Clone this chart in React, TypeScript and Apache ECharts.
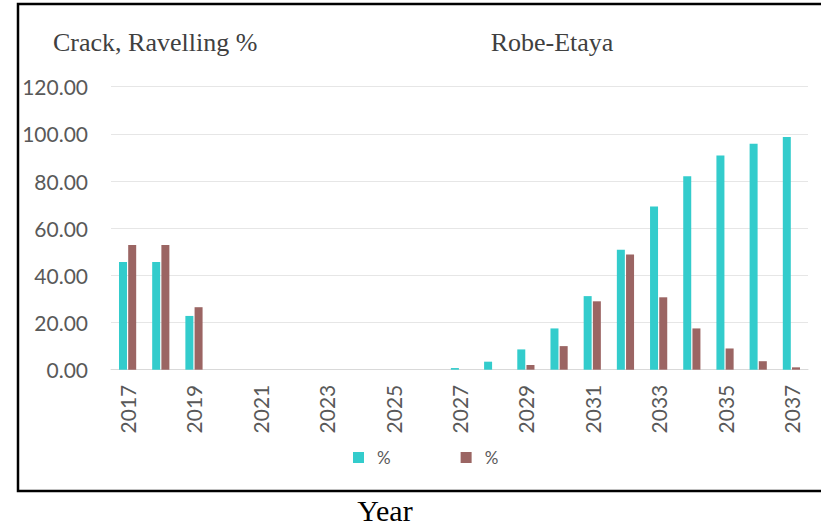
import React, { useEffect, useRef } from "react";
import * as echarts from "echarts";

// Survey years along the horizontal axis
const years: string[] = [
  "2017", "2018", "2019", "2020", "2021", "2022", "2023", "2024", "2025", "2026",
  "2027", "2028", "2029", "2030", "2031", "2032", "2033", "2034", "2035", "2036", "2037",
];

// Crack share (%) per year
const crackPct: number[] = [
  45.7, 45.7, 22.8, 0, 0, 0, 0, 0, 0, 0,
  0.7, 3.4, 8.6, 17.5, 31.2, 50.9, 69.2, 82.0, 90.8, 95.8, 98.7,
];

// Ravelling share (%) per year
const ravellingPct: number[] = [
  52.9, 52.9, 26.5, 0, 0, 0, 0, 0, 0, 0,
  0, 0, 2.0, 10.0, 29.0, 48.8, 30.7, 17.5, 9.0, 3.6, 1.0,
];

const yTicks: number[] = [0, 20, 40, 60, 80, 100, 120];

const chartTitle = "Robe-Etaya";
const yTitle = "Crack, Ravelling %";
const xTitle = "Year";

const CYAN = "#33CCCC";
const BROWN = "#9B6563";
const LABEL = "#595959";
const SANS = "Lato, 'Open Sans', sans-serif";
const SERIF = "'Liberation Serif', 'DejaVu Serif', serif";

export default function App() {
  const ref = useRef<HTMLDivElement | null>(null);

  useEffect(() => {
    if (!ref.current) return;
    const chart = echarts.init(ref.current, undefined, { renderer: "svg" });

    chart.setOption({
      animation: false,
      backgroundColor: "#ffffff",
      grid: { left: 111, right: 13, top: 86.7, bottom: 159.3 },
      legend: {
        left: 353,
        top: 449,
        padding: 0,
        icon: "rect",
        itemWidth: 11,
        itemHeight: 11,
        itemGap: 70,
        formatter: () => "%",
        textStyle: {
          fontFamily: SANS,
          fontSize: 17,
          color: LABEL,
          lineHeight: 17,
          padding: [0, 0, 0, 8],
        },
        selectedMode: false,
        data: ["Crack", "Ravelling"],
      },
      xAxis: {
        type: "category",
        data: years,
        axisTick: { show: false },
        axisLine: { lineStyle: { color: "#d9d9d9", width: 1 } },
        axisLabel: {
          interval: 1,
          rotate: 90,
          margin: 15,
          fontFamily: SANS,
          fontSize: 21,
          color: LABEL,
        },
      },
      yAxis: {
        type: "value",
        min: yTicks[0],
        max: yTicks[yTicks.length - 1],
        interval: yTicks[1] - yTicks[0],
        axisLine: { show: false },
        axisTick: { show: false },
        splitLine: { lineStyle: { color: "#e6e6e6", width: 1 } },
        axisLabel: {
          margin: 23,
          fontFamily: SANS,
          fontSize: 21,
          color: LABEL,
          formatter: (v: number) => v.toFixed(2),
        },
      },
      series: [
        {
          name: "Crack",
          type: "bar",
          data: crackPct,
          barWidth: 8,
          barGap: "15%",
          itemStyle: { color: CYAN },
        },
        {
          name: "Ravelling",
          type: "bar",
          data: ravellingPct,
          barWidth: 8,
          itemStyle: { color: BROWN },
        },
      ],
      graphic: [
        {
          type: "rect",
          shape: { x: 18, y: 4, width: 820, height: 487 },
          style: { fill: "none", stroke: "#000000", lineWidth: 2.5 },
          silent: true,
        },
        {
          type: "text",
          x: 53,
          y: 42,
          style: {
            text: yTitle,
            fontFamily: SERIF,
            fontSize: 26,
            fill: "#404040",
            verticalAlign: "middle",
            align: "left",
          },
        },
        {
          type: "text",
          x: 552,
          y: 42,
          style: {
            text: chartTitle,
            fontFamily: SERIF,
            fontSize: 26,
            fill: "#404040",
            verticalAlign: "middle",
            align: "center",
          },
        },
        {
          type: "text",
          x: 385,
          y: 510,
          style: {
            text: xTitle,
            fontFamily: SERIF,
            fontSize: 30,
            fill: "#000000",
            verticalAlign: "middle",
            align: "center",
          },
        },
      ],
    });

    return () => chart.dispose();
  }, []);

  return (
    <div
      ref={ref}
      style={{ position: "fixed", left: 0, top: 0, width: 821, height: 529, background: "#fff" }}
    />
  );
}
